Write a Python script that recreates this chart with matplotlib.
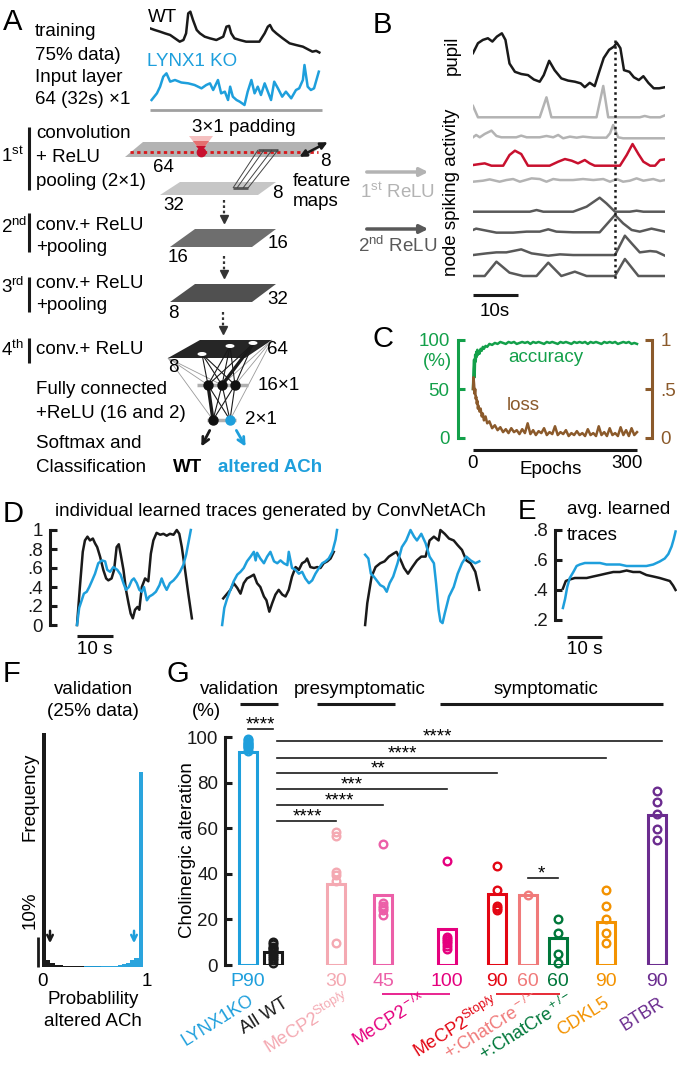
import matplotlib
matplotlib.use('Agg')
import matplotlib.pyplot as plt
from matplotlib.patches import Polygon, Ellipse

plt.rcParams['font.family'] = ['Liberation Sans', 'DejaVu Sans']
plt.rcParams['mathtext.fontset'] = 'custom'
plt.rcParams['mathtext.rm'] = 'Liberation Sans'
plt.rcParams['mathtext.it'] = 'Liberation Sans:italic'
plt.rcParams['mathtext.bf'] = 'Liberation Sans:bold'

# ------------------------------------------------------------------ data
# A: example input traces (time in s, normalised pupil)
wt_t = [0, 0.9, 1.9, 2.8, 3.8, 4.7, 5.6, 6.3, 6.8, 7.2, 7.6, 8.1, 8.8, 9.4, 10.3, 11.3, 12.5, 13.8, 14.4, 14.9,
        15.3, 15.9, 16.9, 18.1, 19.4, 20.6, 21.6, 22.2, 22.6, 23.1, 23.8, 25.0, 26.3, 27.5, 28.8, 29.7, 30.6, 31.3, 31.9]
wt_v = [0.60, 0.56, 0.52, 0.48, 0.44, 0.36, 0.28, 0.32, 0.48, 0.96, 1.0, 0.80, 0.56, 0.48, 0.40, 0.36, 0.32, 0.40, 0.64, 0.66,
        0.48, 0.36, 0.32, 0.28, 0.28, 0.28, 0.48, 0.64, 0.68, 0.56, 0.48, 0.36, 0.24, 0.20, 0.16, 0.10, 0.04, 0.06, 0.02]
ko_t = [0.3, 1.3, 1.9, 2.5, 3.1, 3.8, 4.7, 5.9, 7.2, 8.4, 9.7, 10.6, 11.3, 11.9, 12.8, 13.4, 14.1, 14.7, 15.1, 15.6,
        16.3, 16.9, 17.8, 18.4, 19.1, 19.7, 20.3, 20.9, 21.6, 22.2, 22.8, 23.4, 24.1, 24.9, 25.6, 26.6, 27.5, 28.1, 28.8, 29.1,
        29.7, 30.3, 30.9, 31.8]
ko_v = [0.16, 0.32, 0.48, 0.72, 0.80, 0.60, 0.64, 0.58, 0.56, 0.52, 0.44, 0.52, 0.56, 0.40, 0.64, 0.32, 0.36, 0.16, 0.48, 0.24,
        0.16, 0.12, 0.04, 0.36, 0.64, 0.32, 0.48, 0.28, 0.56, 0.36, 0.16, 0.60, 0.44, 0.24, 0.36, 0.20, 0.40, 0.44, 0.64, 1.0,
        0.48, 0.40, 0.44, 0.84]

# B: pupil and node activity (time in s)
pupil_t = [0, 1.1, 2.2, 3.3, 4.3, 5.3, 6.4, 7.2, 8.1, 9.3, 10.7, 12.2, 13.5, 14.8, 15.7, 16.9, 18.1, 19.6, 21.1, 22.6,
           23.9, 24.8, 25.9, 27.0, 28.0, 29.0, 30.2, 31.3, 31.9, 32.7, 33.5, 34.7, 35.7, 36.8, 37.8, 38.9, 40.1, 41.3, 42.6]
pupil_v = [0.64, 0.82, 0.88, 0.91, 0.85, 0.94, 1.0, 0.88, 0.45, 0.30, 0.26, 0.24, 0.16, 0.12, 0.24, 0.50, 0.33, 0.18, 0.14, 0.12,
           0.09, 0.02, 0.10, 0.04, 0.30, 0.55, 0.70, 0.76, 0.83, 0.73, 0.33, 0.30, 0.20, 0.15, 0.22, 0.10, 0.0, 0.0, 0.02]
event_t = 31.5
n1_t = [0, 1.1, 14.8, 16.3, 17.4, 27.4, 28.9, 30.0, 37.0, 38.1, 39.3, 41.5, 42.6]
n1_h = [34, 0, 0, 60, 0, 0, 94, 0, 0, 4, 0, 0, 6]
n2_t = [0, 0.7, 1.5, 2.6, 4.1, 5.2, 6.3, 9.6, 10.7, 11.9, 14.8, 16.3, 17.8, 18.9, 20.0, 21.5, 23.0, 24.4, 26.7, 29.6,
        30.4, 31.1, 32.2, 33.3, 42.6]
n2_h = [3, 10, 3, 13, 23, 7, 3, 3, 8, 3, 3, 7, 3, 10, 0, 5, 2, 5, 2, 2, 15, 40, 3, 0, 0]
n3_t = [0, 1.5, 2.6, 4.1, 6.7, 8.1, 9.3, 10.7, 12.2, 17.0, 18.9, 20.4, 21.9, 23.3, 24.8, 25.9, 27.0, 32.6, 34.1, 35.4,
        36.7, 37.8, 39.3, 40.4, 41.5, 42.6]
n3_h = [2, 5, 7, 0, 0, 32, 45, 35, 0, 0, 12, 20, 15, 7, 17, 7, 0, 0, 32, 65, 35, 12, 0, 0, 17, 19]
n4_t = [0, 2.2, 3.7, 5.9, 7.4, 8.9, 10.4, 13.0, 14.8, 16.3, 17.8, 19.3, 22.2, 24.4, 26.7, 28.9, 30.4, 31.9, 33.3, 34.8,
        36.3, 37.8, 40.0, 41.5, 42.6]
n4_h = [0, 3, 7, 0, 5, 8, 0, 10, 8, 0, 8, 5, 5, 8, 5, 8, 0, 8, 0, 3, 10, 3, 8, 2, 5]
n5_t = [0, 12.6, 14.1, 15.6, 22.2, 25.2, 28.1, 29.6, 31.5, 34.8, 36.3, 37.8, 42.6]
n5_h = [0, 0, 5, 0, 0, 15, 42, 25, 0, 0, 3, 0, 0]
n6_t = [0, 0.7, 2.2, 5.2, 8.9, 11.9, 14.8, 16.7, 18.5, 22.2, 28.1, 31.5, 33.3, 35.2, 37.0, 39.6, 42.6]
n6_h = [7, 11, 7, -1, -1, 2, 2, 9, 2, 0, 0, 52, 27, 7, 2, 11, 2]
n7_t = [0, 3.0, 5.2, 7.4, 10.7, 13.0, 16.7, 19.3, 22.2, 25.2, 31.5, 33.7, 35.2, 37.0, 39.3, 40.7, 42.6]
n7_h = [2, 7, 10, 10, 19, 7, 0, 4, 2, 2, 2, 60, 37, 10, 14, 12, 0]
n8_t = [0, 2.6, 5.2, 8.1, 11.1, 14.1, 16.7, 19.6, 22.6, 25.2, 28.1, 31.5, 33.7, 36.7, 42.6]
n8_h = [0, 0, 43, 10, 0, 0, 40, 0, 13, 0, 0, 0, 51, 0, 0]

# C: training curves
epochs = [0, 1, 2, 3, 4, 5, 6, 7, 8, 9, 10, 12, 14, 16, 18, 20, 23, 26, 30, 35, 40, 45, 50, 55, 60, 65, 70, 75, 80, 85,
          90, 95, 100, 105, 110, 115, 120, 125, 130, 135, 140, 145, 150, 155, 160, 165, 170, 175, 180, 185, 190, 195,
          200, 205, 210, 215, 220, 225, 230, 235, 240, 245, 250, 255, 260, 265, 270, 275, 280, 285, 290, 295, 300]
accuracy = [50, 70, 80, 62, 85, 78, 88, 83, 90, 85, 88, 86, 91, 89, 93, 91, 94, 93, 96, 95, 97, 96, 98, 97, 96, 98, 97,
            98, 96, 97, 98, 97, 98, 96, 98, 97, 98, 97, 96, 98, 97, 98, 97, 96, 98, 97, 98, 97, 96, 98, 97, 98, 97, 98,
            96, 98, 97, 98, 97, 96, 98, 97, 98, 97, 98, 96, 97, 98, 97, 98, 96, 97, 96]
loss = [0.50, 0.62, 0.55, 0.45, 0.50, 0.40, 0.42, 0.35, 0.38, 0.30, 0.33, 0.27, 0.30, 0.22, 0.25, 0.18, 0.22, 0.15, 0.17,
        0.10, 0.13, 0.08, 0.11, 0.06, 0.09, 0.05, 0.10, 0.06, 0.08, 0.04, 0.09, 0.05, 0.15, 0.04, 0.08, 0.03, 0.07, 0.05,
        0.10, 0.03, 0.06, 0.04, 0.12, 0.03, 0.06, 0.04, 0.08, 0.02, 0.05, 0.03, 0.07, 0.03, 0.05, 0.02, 0.09, 0.03, 0.05,
        0.02, 0.12, 0.03, 0.06, 0.02, 0.10, 0.03, 0.05, 0.02, 0.11, 0.03, 0.08, 0.02, 0.10, 0.03, 0.06]

# D: individual learned traces (time in s, normalised)
d1_wt_t = [0, 0.8, 1.6, 2.2, 2.9, 3.6, 4.4, 5.0, 5.6, 6.4, 7.3, 8.1, 8.7, 9.6, 10.3, 11.0, 11.6, 12.1, 12.9, 13.6,
           14.3, 14.9, 15.5, 16.1, 16.8, 17.3, 18.0, 18.9, 19.8, 20.5, 21.2, 22.1, 23.1, 24.0, 24.9, 25.8, 26.8, 27.7,
           28.4, 29.1, 30.0, 30.9, 31.9]
d1_wt_v = [0, 0.40, 0.77, 0.89, 0.93, 0.89, 0.91, 0.86, 0.82, 0.72, 0.58, 0.49, 0.47, 0.49, 0.58, 0.82, 0.85, 0.75, 0.58,
           0.37, 0.23, 0.12, 0.07, 0.16, 0.19, 0.16, 0.40, 0.49, 0.46, 0.75, 0.89, 0.97, 0.95, 0.96, 0.94, 0.96, 0.95,
           1.0, 0.96, 0.82, 0.58, 0.33, 0.07]
d1_ko_t = [0, 0.6, 1.3, 1.9, 2.7, 3.4, 4.1, 5.0, 5.9, 6.9, 7.8, 8.4, 9.2, 10.1, 11.2, 12.1, 12.9, 13.6, 14.4, 15.2,
           15.8, 16.6, 17.3, 18.0, 18.6, 19.4, 20.1, 21.0, 21.9, 22.9, 23.5, 24.2, 24.9, 25.8, 26.8, 27.7, 28.6, 29.5,
           30.3, 30.9, 31.6]
d1_ko_v = [0, 0.18, 0.26, 0.33, 0.35, 0.40, 0.46, 0.54, 0.65, 0.68, 0.67, 0.58, 0.56, 0.61, 0.58, 0.53, 0.44, 0.37, 0.40,
           0.47, 0.49, 0.44, 0.37, 0.35, 0.40, 0.26, 0.30, 0.32, 0.35, 0.42, 0.49, 0.42, 0.37, 0.44, 0.47, 0.51, 0.56,
           0.63, 0.74, 0.86, 1.0]
d2_wt_t = [0.3, 1.4, 2.3, 3.2, 4.2, 5.1, 6.0, 6.9, 7.9, 8.8, 9.7, 10.6, 11.6, 12.3, 13.1, 13.9, 14.8, 15.7, 16.7, 17.6,
           18.5, 19.4, 20.4, 21.3, 22.2, 23.1, 23.6, 24.5, 25.5, 26.4, 27.3, 28.2, 29.2, 30.1, 31.0]
d2_wt_v = [0.28, 0.33, 0.37, 0.44, 0.39, 0.33, 0.44, 0.49, 0.51, 0.53, 0.44, 0.40, 0.30, 0.26, 0.14, 0.23, 0.32, 0.37,
           0.32, 0.30, 0.37, 0.51, 0.61, 0.58, 0.65, 0.67, 0.70, 0.61, 0.60, 0.61, 0.60, 0.65, 0.67, 0.70, 0.77]
d2_ko_t = [0, 0.6, 1.4, 2.3, 3.2, 4.2, 5.1, 6.0, 6.9, 7.9, 8.8, 9.3, 9.7, 10.6, 11.6, 12.5, 13.4, 14.4, 15.3, 16.2,
           17.1, 18.1, 18.5, 19.4, 20.4, 21.3, 22.2, 23.1, 24.1, 25.0, 25.9, 26.9, 27.8, 28.7, 29.6, 30.6, 31.5, 31.9]
d2_ko_v = [0, 0.18, 0.28, 0.37, 0.46, 0.53, 0.56, 0.60, 0.67, 0.72, 0.77, 0.68, 0.76, 0.70, 0.65, 0.72, 0.77, 0.67,
           0.65, 0.68, 0.65, 0.63, 0.77, 0.60, 0.58, 0.54, 0.56, 0.49, 0.44, 0.47, 0.54, 0.60, 0.65, 0.67, 0.70, 0.77,
           0.90, 1.0]
d3_wt_t = [0, 0.6, 1.8, 2.9, 4.2, 5.4, 6.6, 7.8, 8.7, 9.9, 10.8, 11.9, 13.1, 14.4, 15.6, 16.8, 17.9, 19.1, 20.4, 20.9,
           22.1, 23.3, 24.6, 25.7, 26.9, 28.1, 29.3, 30.6, 31.7]
d3_wt_v = [0, 0.23, 0.51, 0.61, 0.65, 0.67, 0.72, 0.75, 0.77, 0.68, 0.60, 0.54, 0.61, 0.68, 0.72, 0.72, 0.89, 0.93,
           0.89, 1.0, 0.96, 0.91, 0.89, 0.84, 0.79, 0.68, 0.65, 0.56, 0.37]
d3_ko_t = [0, 0.9, 1.6, 2.4, 3.2, 4.2, 5.2, 6.0, 6.8, 7.8, 9.0, 10.2, 11.4, 12.6, 13.6, 14.4, 15.6, 16.8, 17.9, 19.1,
           19.7, 20.4, 20.9, 21.5, 22.1, 23.3, 24.6, 25.7, 26.9, 28.1, 29.3, 30.6, 31.7]
d3_ko_v = [0.74, 0.70, 0.54, 0.51, 0.47, 0.42, 0.40, 0.35, 0.44, 0.51, 0.65, 0.82, 0.89, 1.0, 0.93, 0.89, 0.96, 0.86,
           0.72, 0.65, 0.44, 0.16, 0.04, 0.02, 0.12, 0.30, 0.40, 0.54, 0.65, 0.72, 0.68, 0.65, 0.67]

# E: average learned traces
e_ko_t = [0, 0.6, 1.2, 1.9, 2.9, 3.8, 4.7, 6.1, 7.5, 8.9, 10.3, 12.1, 14.0, 15.8, 17.7, 19.5, 21.4, 23.2, 25.1, 26.9,
          28.3, 29.3, 30.2, 30.8, 31.3]
e_ko_v = [0.28, 0.34, 0.42, 0.48, 0.52, 0.56, 0.57, 0.58, 0.58, 0.58, 0.58, 0.57, 0.57, 0.57, 0.56, 0.56, 0.56, 0.56,
          0.57, 0.59, 0.61, 0.64, 0.69, 0.74, 0.79]
e_wt_t = [0, 0.8, 1.9, 3.3, 4.7, 6.6, 8.4, 10.3, 12.1, 14.0, 15.8, 17.7, 19.5, 21.4, 23.2, 25.1, 26.9, 28.3, 29.7, 30.6, 31.3]
e_wt_v = [0.41, 0.46, 0.47, 0.48, 0.48, 0.48, 0.49, 0.50, 0.51, 0.52, 0.52, 0.53, 0.52, 0.52, 0.50, 0.49, 0.48, 0.47,
          0.46, 0.43, 0.40]

# F: validation histogram (% per bin of probability)
hist_edges = [i * 0.04 for i in range(25)]
hist_wt = [78, 2.3, 1.3, 0.8, 0.6, 0.5, 0.4, 0.35, 0.3, 0.3, 0.25, 0.2, 0.2, 0.2, 0.15, 0.15, 0.1, 0.1, 0.1, 0.1,
           0.1, 0.1, 0.1, 0.1]
hist_ko = [0.1, 0.1, 0.1, 0.1, 0.1, 0.1, 0.1, 0.1, 0.15, 0.15, 0.2, 0.2, 0.2, 0.25, 0.3, 0.35, 0.4, 0.5, 0.7, 0.9,
           1.3, 2.2, 3.0, 65]

# G: cholinergic alteration (%)
g_names = ['LYNX1KO', 'All WT', r'MeCP2$^{\rm Stop/y}$', r'MeCP2$^{\rm -/x}$', '', r'MeCP2$^{\rm Stop/y}$',
           r'+:ChatCre$^{\rm -/-}$', r'+:ChatCre$^{\rm +/-}$', 'CDKL5', 'BTBR']
g_ages = ['P90', '', '30', '45', '100', '90', '60', '60', '90', '90']
g_means = [93.4, 5.7, 35.5, 30.7, 15.8, 31.0, 30.7, 11.7, 19.0, 66.0]
g_points = [
    [94, 95, 95.5, 96, 96.5, 97, 97.5, 98, 98.5, 99],
    [10, 9, 8, 7.5, 7, 6, 5.5, 5, 4, 3, 2, 1],
    [58.5, 56.5, 41, 39.5, 37, 9.5],
    [53, 27, 26, 25, 24, 22],
    [45.5, 12.5, 11.5, 10.5, 9.5, 8.5, 7],
    [43.5, 33, 26, 25, 24],
    [30.5],
    [20, 14, 5, 1],
    [33, 26, 20, 14, 9.7],
    [76.3, 71.5, 66.2, 59.6, 54.8],
]
g_colors = ['#1e9fdc', '#1a1a1a', '#f4a9b2', '#ec5fa8', '#e5007e', '#e30613', '#f07a7a', '#00773a', '#f39200', '#6b2c8f']
g_label_colors = ['#1e9fdc', '#1a1a1a', '#f4a9b2', '#e5007e', '#e5007e', '#e30613', '#f07a7a', '#00773a', '#f39200',
                  '#6b2c8f']
sig_pairs = [(0, 1, '****'), (1, 9, '****'), (1, 8, '****'), (1, 5, '**'), (1, 4, '***'), (1, 3, '****'),
             (1, 2, '****'), (6, 7, '*')]

# ------------------------------------------------------------------ layout helpers
W, H = 677, 1067
FS = 13.5
BLUE = '#1e9fdc'
GREEN = '#13a04a'
BROWN = '#8b5a2b'
fig = plt.figure(figsize=(W / 100, H / 100), dpi=100)
ov = fig.add_axes([0, 0, 1, 1], zorder=5)
ov.set_xlim(0, W)
ov.set_ylim(H, 0)
ov.axis('off')


def axpx(x0, y0, x1, y1):
    a = fig.add_axes([x0 / W, 1 - y1 / H, (x1 - x0) / W, (y1 - y0) / H])
    a.patch.set_alpha(0)
    return a


def T(x, y, s, size=FS, **kw):
    kw.setdefault('ha', 'left')
    kw.setdefault('va', 'center')
    ov.text(x, y, s, fontsize=size, **kw)


def L(xs, ys, **kw):
    ov.plot(xs, ys, solid_capstyle='butt', **kw)


for lab, x, y, sz in [('A', 3, 8, 21), ('B', 373, 11, 21), ('C', 373, 325, 21), ('D', 3, 500, 21),
                      ('E', 518, 499, 20), ('F', 3, 660, 21), ('G', 166, 660, 21)]:
    T(x, y, lab, size=sz, va='top')

# ------------------------------------------------------------------ panel A
T(35, 32, 'training')
T(35, 55, '75% data)')
T(35, 78, 'Input layer')
T(35, 100, '64 (32s) ×1')
T(148, 17, 'WT')
T(147, 61, 'LYNX1 KO', color=BLUE)

atr = axpx(150, 5, 322, 115)
atr.set_xlim(0, 32.4)
atr.set_ylim(-0.2, 2.44)
atr.axis('off')
atr.plot(wt_t, [1.28 + v for v in wt_v], color='#1a1a1a', lw=1.8)
atr.plot(ko_t, ko_v, color=BLUE, lw=1.8)
L([150, 322], [110, 110], color='#a0a0a0', lw=2)
T(244, 127, '3×1 padding', ha='center')

for lab, y, bar, lines in [(r'1$^{\rm st}$', 156, (127, 190), [('convolution', 133), ('+ ReLU', 157), ('pooling (2×1)', 182)]),
                           (r'2$^{\rm nd}$', 227, (213, 252), [('conv.+ ReLU', 225), ('+pooling', 248)]),
                           (r'3$^{\rm rd}$', 287, (277, 312), [('conv.+ ReLU', 283), ('+pooling', 305)]),
                           (r'4$^{\rm th}$', 350, (338, 363), [('conv.+ ReLU', 350)])]:
    T(1, y, lab)
    L([29, 29], list(bar), color='#1a1a1a', lw=2.2)
    for s, yy in lines:
        T(36, yy, s)
for s, yy in [('Fully connected', 390), ('+ReLU (16 and 2)', 413), ('Softmax and', 443), ('Classification', 467)]:
    T(36, yy, s)

planes = [([(125, 157), (143, 142), (327, 142), (307, 157)], '#b3b3b3'),
          ([(160, 195), (180, 182), (276, 182), (258, 195)], '#c6c6c6'),
          ([(170, 247), (195, 229), (276, 229), (252, 247)], '#6e6e6e'),
          ([(170, 302), (195, 284), (276, 284), (252, 302)], '#505050'),
          ([(168, 358), (200, 340), (272, 340), (245, 358)], '#262626')]
for pts, c in planes:
    ov.add_patch(Polygon(pts, closed=True, facecolor=c, edgecolor='none', zorder=1))

# padding kernel (red cone) and dotted line
L([130, 318], [152, 152], color='#d7191c', lw=2, ls=(0, (1.2, 1.2)), zorder=3)
for pts, c in [([(189, 136), (213, 136), (201, 152)], '#f5c0c0'),
               ([(193, 141), (209, 141), (201, 152)], '#e47070'),
               ([(196, 146), (206, 146), (201, 152)], '#c8102e')]:
    ov.add_patch(Polygon(pts, closed=True, facecolor=c, edgecolor='none', zorder=3))
ov.plot(201, 152, 'o', color='#c8102e', ms=6, zorder=4)

# projection from layer 1 to pooled layer
L([258, 278], [150, 150], color='#555555', lw=2, zorder=3)
L([233, 248], [188, 188], color='#555555', lw=2, zorder=3)
for (xa, xb) in [(258, 233), (264, 237), (272, 243), (278, 248)]:
    L([xa, xb], [150, 188], color='#444444', lw=0.7, zorder=3)
ov.annotate('', xy=(330, 141), xytext=(297, 158),
            arrowprops=dict(arrowstyle='<|-|>', color='#1a1a1a', lw=1.8, mutation_scale=10), zorder=4)

for s, x, y in [('64', 153, 168), ('8', 320, 162), ('32', 163, 206), ('8', 272, 194), ('16', 268, 244),
                ('16', 168, 258), ('32', 267, 300), ('8', 168, 313), ('64', 267, 350), ('8', 168, 368)]:
    T(x, y, s)
T(293, 181, 'feature')
T(293, 202, 'maps')

for x, y0, y1 in [(224, 200, 223), (224, 256, 278), (223, 312, 334)]:
    L([x, x], [y0, y1 - 6], color='#333333', lw=1.6, ls=(0, (1.2, 1.2)))
    ov.plot(x, y1 - 4, marker='v', color='#333333', ms=6)

# fully connected part
pA, pB, pC = (202, 354), (230, 346), (253, 344)
Lc, Rc = (168, 358), (272, 340)
hid = [(208, 385), (222, 385), (235, 385)]
outs = [(213, 420), (230, 420)]
for p in (pA, pB, pC):
    for h in hid:
        L([p[0], h[0]], [p[1], h[1]], color='#1a1a1a', lw=0.8, zorder=3)
L([pC[0], hid[1][0]], [pC[1], hid[1][1]], color='#1a1a1a', lw=2.4, zorder=3)
for a, b in [(Lc, hid[0]), (Lc, outs[0]), (Rc, hid[2]), (Rc, outs[1]), (Lc, hid[1]), (Rc, hid[1])]:
    L([a[0], b[0]], [a[1], b[1]], color='#9a9a9a', lw=0.6, zorder=2)
for h in hid:
    for o in outs:
        L([h[0], o[0]], [h[1], o[1]], color='#1a1a1a', lw=0.8, zorder=3)
L([hid[0][0], outs[0][0]], [hid[0][1], outs[0][1]], color='#1a1a1a', lw=2.4, zorder=3)
L([197, 248], [385, 385], color='#b0b0b0', lw=2.5, zorder=2)
L([207, 236], [420, 420], color='#b0b0b0', lw=2.5, zorder=2)
for x, y in [(202, 354), (230, 346), (253, 343)]:
    ov.add_patch(Ellipse((x, y), 9, 4, facecolor='white', edgecolor='none', zorder=4))
for h in hid:
    ov.plot(*h, 'o', color='#111111', ms=6.5, zorder=5)
ov.plot(*outs[0], 'o', color='#111111', ms=6.5, zorder=5)
ov.plot(*outs[1], 'o', color=BLUE, ms=6.5, zorder=5)
T(258, 386, '16×1')
T(245, 419, '2×1')
ov.annotate('', xy=(200, 449), xytext=(211, 428),
            arrowprops=dict(arrowstyle='->', color='#1a1a1a', lw=2, mutation_scale=12))
ov.annotate('', xy=(247, 449), xytext=(235, 428),
            arrowprops=dict(arrowstyle='->', color=BLUE, lw=2, mutation_scale=12))
T(188, 467, 'WT', ha='center', fontweight='bold')
T(218, 467, 'altered ACh', color=BLUE, fontweight='bold')

# ------------------------------------------------------------------ panel B
bx = axpx(473, 0, 665, 300)
bx.set_xlim(0, 42.6)
bx.set_ylim(300, 0)
bx.axis('off')
bx.plot(pupil_t, [88.3 - 55 * v for v in pupil_v], color='#1a1a1a', lw=1.8)
node_traces = [(n1_t, n1_h, 117.3, '#b3b3b3'), (n2_t, n2_h, 138.3, '#b3b3b3'), (n3_t, n3_h, 165.7, '#c8102e'),
               (n4_t, n4_h, 181.7, '#b3b3b3'), (n5_t, n5_h, 211.7, '#595959'), (n6_t, n6_h, 232.3, '#595959'),
               (n7_t, n7_h, 255.7, '#595959'), (n8_t, n8_h, 276.0, '#595959')]
for tt, hh, base, c in node_traces:
    bx.plot(tt, [base - h / 3 for h in hh], color=c, lw=1.8)
bx.plot([event_t, event_t], [40, 281], color='#1a1a1a', lw=1.8, ls=(0, (1, 1.3)))
bx.plot([0, 10], [295, 295], color='#1a1a1a', lw=2.2, solid_capstyle='butt')
T(495, 311, '10s', ha='center')
T(452, 55, 'pupil', rotation=90, ha='center')
T(452, 192, 'node spiking activity', rotation=90, ha='center')
ov.annotate('', xy=(431, 172), xytext=(364, 172),
            arrowprops=dict(arrowstyle='-|>', color='#b3b3b3', lw=2.5, mutation_scale=12))
ov.annotate('', xy=(431, 229), xytext=(364, 229),
            arrowprops=dict(arrowstyle='-|>', color='#595959', lw=2.5, mutation_scale=12))
T(398, 192, r'1$^{\rm st}$ ReLU', ha='center', color='#b3b3b3')
T(398, 246, r'2$^{\rm nd}$ ReLU', ha='center', color='#595959')

# ------------------------------------------------------------------ panel C
cx = axpx(458, 340, 652, 438)
cx.set_xlim(-27.4, 327.4)
cx.set_ylim(0, 100)
cx.plot(epochs, accuracy, color=GREEN, lw=1.8, clip_on=False)
for s in ['top', 'right', 'bottom']:
    cx.spines[s].set_visible(False)
cx.spines['left'].set_color(GREEN)
cx.spines['left'].set_linewidth(2.2)
cx.set_xticks([])
cx.set_yticks([0, 50, 100])
cx.set_yticklabels(['0', '50', '100'])
cx.tick_params(axis='y', direction='in', length=5, width=2.2, colors=GREEN, labelsize=FS, pad=6)
cx.plot([0, 300], [-12.2, -12.2], color='#1a1a1a', lw=2.2, clip_on=False, solid_capstyle='butt')
cx2 = cx.twinx()
cx2.set_ylim(0, 1)
cx2.plot(epochs, loss, color=BROWN, lw=1.8, clip_on=False)
for s in ['top', 'left', 'bottom']:
    cx2.spines[s].set_visible(False)
cx2.spines['right'].set_color(BROWN)
cx2.spines['right'].set_linewidth(2.2)
cx2.set_yticks([0, 0.5, 1])
cx2.set_yticklabels(['0', '.5', '1'])
cx2.tick_params(axis='y', direction='in', length=5, width=2.2, colors=BROWN, labelsize=FS, pad=6)
T(437, 362, '(%)', ha='center', color=GREEN)
T(546, 358, 'accuracy', ha='center', color=GREEN)
T(523, 406, 'loss', ha='center', color=BROWN)
T(473, 463, '0', ha='center')
T(627, 463, '300', ha='center')
T(551, 469, 'Epochs', ha='center')


# ------------------------------------------------------------------ panel D
def left_axis(a, ticks, labels):
    for s in ['top', 'right', 'bottom']:
        a.spines[s].set_visible(False)
    a.spines['left'].set_linewidth(2.2)
    a.spines['left'].set_color('#1a1a1a')
    a.set_xticks([])
    a.set_yticks(ticks)
    a.set_yticklabels(labels)
    a.tick_params(axis='y', direction='in', length=5, width=2.2, labelsize=FS, pad=5, colors='#1a1a1a')


dx = axpx(50, 530, 480, 625)
dx.set_xlim(-7.5, 111.9)
dx.set_ylim(0, 1)
left_axis(dx, [0, .2, .4, .6, .8, 1], ['0', '.2', '.4', '.6', '.8', '1'])
for k, (tw, vw, tk, vk) in enumerate([(d1_wt_t, d1_wt_v, d1_ko_t, d1_ko_v), (d2_wt_t, d2_wt_v, d2_ko_t, d2_ko_v),
                                      (d3_wt_t, d3_wt_v, d3_ko_t, d3_ko_v)]):
    off = [0, 40.3, 80.0][k]
    dx.plot([t + off for t in tw], vw, color='#1a1a1a', lw=1.8, clip_on=False)
    dx.plot([t + off for t in tk], vk, color=BLUE, lw=1.8, clip_on=False)
dx.plot([0, 10], [-0.116, -0.116], color='#1a1a1a', lw=2.2, clip_on=False, solid_capstyle='butt')
T(95, 650, '10 s', ha='center')
T(270, 512, 'individual learned traces generated by ConvNetACh', ha='center')

# ------------------------------------------------------------------ panel E
ex = axpx(555, 530, 677, 620)
ex.set_xlim(-2.2, 31.7)
ex.set_ylim(0.2, 0.8)
left_axis(ex, [.2, .4, .6, .8], ['.2', '.4', '.6', '.8'])
ex.plot(e_wt_t, e_wt_v, color='#1a1a1a', lw=1.8, clip_on=False)
ex.plot(e_ko_t, e_ko_v, color=BLUE, lw=1.8, clip_on=False)
ex.plot([1.1, 10.8], [0.087, 0.087], color='#1a1a1a', lw=2.2, clip_on=False, solid_capstyle='butt')
T(585, 650, '10 s', ha='center')
T(567, 510, 'avg. learned')
T(567, 535, 'traces')

# ------------------------------------------------------------------ panel F
fx = axpx(42, 700, 147, 967)
fx.set_xlim(0, 1)
fx.set_ylim(0, 89)
fx.axis('off')
fx.bar(hist_edges[:-1], hist_wt, width=0.04, align='edge', color='#1a1a1a', lw=0)
fx.bar(hist_edges[:-1], hist_ko, width=0.04, align='edge', color=BLUE, lw=0, alpha=0.95)
L([38, 38], [937, 967], color='#1a1a1a', lw=2)
T(30, 910, '10%', rotation=90, ha='center')
T(30, 797, 'Frequency', rotation=90, ha='center')
ov.annotate('', xy=(50, 946), xytext=(50, 928),
            arrowprops=dict(arrowstyle='->', color='#1a1a1a', lw=1.8, mutation_scale=10))
ov.annotate('', xy=(134, 946), xytext=(134, 928),
            arrowprops=dict(arrowstyle='->', color=BLUE, lw=1.8, mutation_scale=10))
T(42, 981, '0', ha='center')
T(147, 981, '1', ha='center')
T(93, 1000, 'Probablility', ha='center')
T(93, 1022, 'altered ACh', ha='center')
T(93, 690, 'validation', ha='center')
T(93, 712, '(25% data)', ha='center')

# ------------------------------------------------------------------ panel G
gpos = [248, 273, 336, 383, 447, 497, 528, 558, 606, 657]
gx = axpx(225, 737, 677, 965)
gx.set_xlim(225, 677)
gx.set_ylim(0, 100)
left_axis(gx, [0, 20, 40, 60, 80, 100], ['0', '20', '40', '60', '80', '100'])
gx.bar(gpos, g_means, width=18, fill=False, edgecolor=g_colors, lw=2.2)
for x, pts, c in zip(gpos, g_points, g_colors):
    gx.plot([x] * len(pts), pts, 'o', mfc='none', mec=c, ms=5.5, mew=1.7, clip_on=False)
sig_levels = [103.5, 98.2, 90.8, 84.2, 77.2, 70.2, 63.2, 38.2]
sig_starx = [260, 437, 402, 378, 352, 339, 307, 541]
for (i, j, lab), lv, sx in zip(sig_pairs, sig_levels, sig_starx):
    if i == 0:
        x0, x1 = gpos[0], gpos[1]
    elif i == 1:
        x0, x1 = gpos[1] + 4, gpos[j] + (5 if j == 9 else 0)
    else:
        x0, x1 = gpos[i], gpos[j]
    gx.plot([x0, x1], [lv, lv], color='#1a1a1a', lw=1.2, clip_on=False)
    gx.text(sx, lv - 0.3, lab, ha='center', va='baseline', fontsize=FS, clip_on=False)
T(206, 712, '(%)', ha='center')
T(187, 850, 'Cholinergic alteration', rotation=90, ha='center')
for s, x in [('validation', 240), ('presymptomatic', 360), ('symptomatic', 546)]:
    T(x, 690, s, ha='center')
for x0, x1 in [(240, 278), (317, 395), (440, 663)]:
    L([x0, x1], [704, 704], color='#1a1a1a', lw=2.2)
for x, age, c in zip(gpos, g_ages, g_colors):
    if age:
        T(x, 982, age, ha='center', color=c, size=FS + 0.5)
L([382, 450], [994, 994], color='#e5007e', lw=1.2)
L([496, 560], [994, 994], color='#e30613', lw=1.2)
label_anchor = [(252, 999), (287, 1002), (349, 997), (424, 998), None, (498, 1001), (538, 998), (573, 999),
                (608, 1002), (663, 1002)]
for name, anc, c in zip(g_names, label_anchor, g_label_colors):
    if anc is None:
        continue
    ov.text(anc[0], anc[1], name, rotation=32, rotation_mode='anchor', ha='right', va='center',
            color=c, fontsize=13)

fig.savefig('out.png', dpi=100)
